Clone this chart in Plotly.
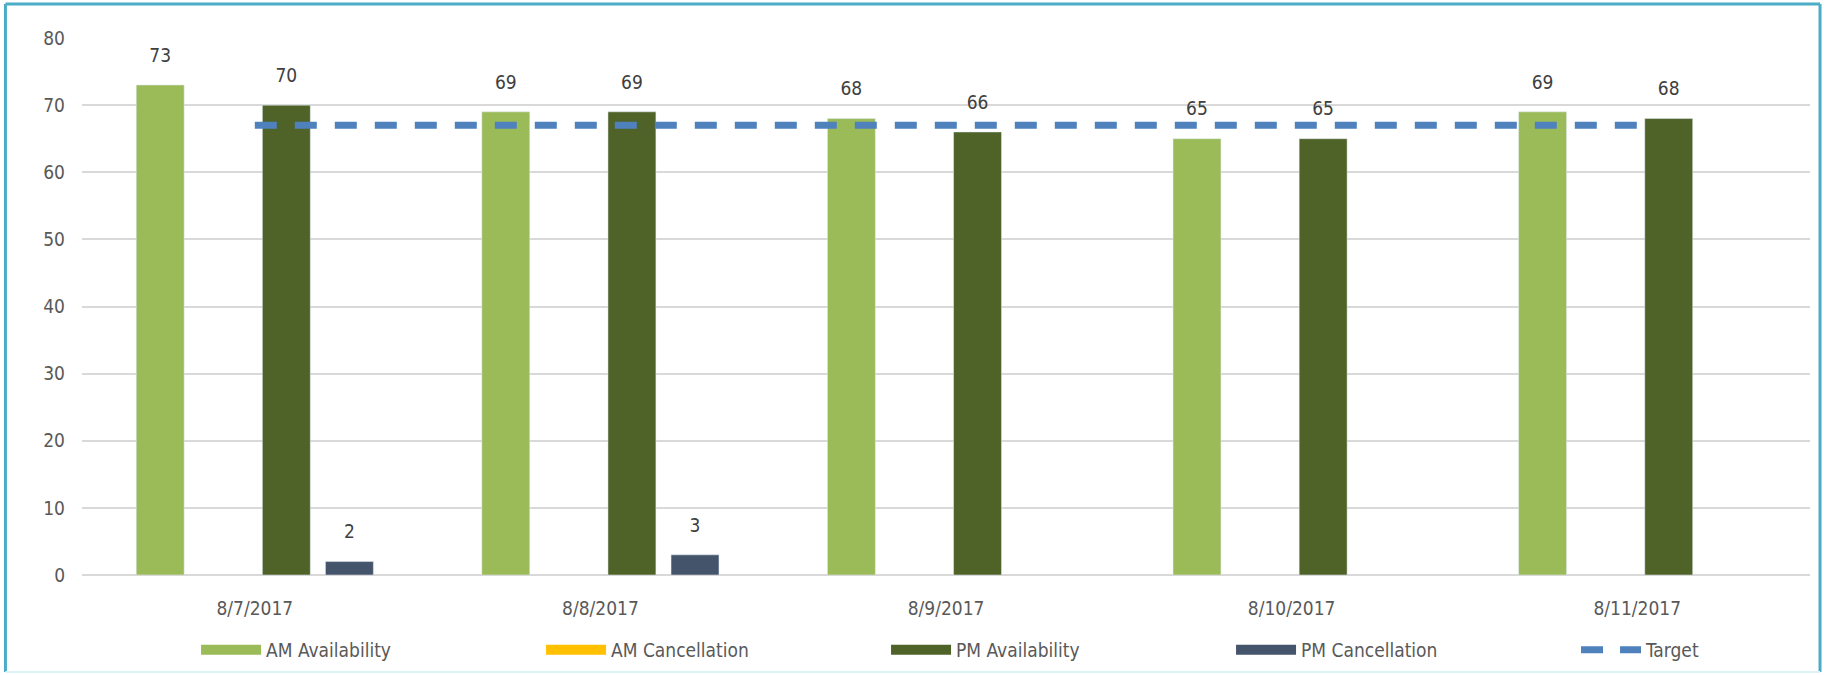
import plotly.graph_objects as go

dates = ["8/7/2017", "8/8/2017", "8/9/2017", "8/10/2017", "8/11/2017"]
am_availability = [73, 69, 68, 65, 69]
am_cancellation = [None, None, None, None, None]
pm_availability = [70, 69, 66, 65, 68]
pm_cancellation = [2, 3, None, None, None]
target = [67, 67, 67, 67, 67]
y_ticks = [0, 10, 20, 30, 40, 50, 60, 70, 80]

series_names = ["AM Availability", "AM Cancellation", "PM Availability", "PM Cancellation"]
series_values = [am_availability, am_cancellation, pm_availability, pm_cancellation]
series_colors = ["#9BBB59", "#FFC000", "#4F6228", "#44546A"]

FONT = "DejaVu Sans Condensed, Liberation Sans Narrow, sans-serif"
FS = 19

fig = go.Figure()

for i, (name, vals, col) in enumerate(zip(series_names, series_values, series_colors)):
    fig.add_trace(go.Bar(
        x=dates, y=vals, name=name, marker_color=col,
        offsetgroup=str(i), showlegend=False, hoverinfo="skip",
    ))

for i, (name, vals) in enumerate(zip(series_names, series_values)):
    fig.add_trace(go.Scatter(
        x=dates, y=vals, mode="markers+text",
        text=[("" if v is None else str(v)) for v in vals],
        textposition="top center",
        textfont=dict(family=FONT, size=FS, color="#404040"),
        marker=dict(size=28, opacity=0),
        offsetgroup=str(i), showlegend=False, hoverinfo="skip", cliponaxis=False,
    ))

fig.add_trace(go.Scatter(
    x=dates, y=target, mode="lines", name="Target", xaxis="x2",
    line=dict(color="#4F81BD", width=7, dash="22px,18px"),
    showlegend=False, hoverinfo="skip",
))

# legend entries
for name, col in zip(series_names, series_colors):
    fig.add_trace(go.Scatter(
        x=[None], y=[None], mode="lines", name=name, xaxis="x2",
        line=dict(color=col, width=15),
    ))
fig.add_trace(go.Scatter(
    x=[None], y=[None], mode="lines", name="Target", xaxis="x2",
    line=dict(color="#4F81BD", width=7, dash="22px,17px"),
))

fig.update_layout(
    width=1835, height=675,
    margin=dict(l=82, r=25, t=37.5, b=100, autoexpand=False),
    paper_bgcolor="white", plot_bgcolor="white",
    barmode="group", bargap=0.27, bargroupgap=0.24,
    scattermode="group", scattergap=0.27,
    font=dict(family=FONT, size=FS, color="#595959"),
    xaxis=dict(type="category", categoryorder="array", categoryarray=dates,
               range=[-0.5, 4.5], showgrid=False, showline=False, zeroline=False,
               ticks="", ticklabelstandoff=20,
               tickfont=dict(family=FONT, size=FS, color="#595959")),
    xaxis2=dict(type="category", categoryorder="array", categoryarray=dates,
                range=[-0.5, 4.5], overlaying="x", visible=False),
    yaxis=dict(range=[0, 80], tickvals=y_ticks, showgrid=True, gridcolor="#D9D9D9",
               gridwidth=2, zeroline=True, zerolinecolor="#D9D9D9", zerolinewidth=2,
               showline=False, ticks="", ticklabelstandoff=16,
               tickfont=dict(family=FONT, size=FS, color="#595959")),
    legend=dict(orientation="h", x=0.066, xanchor="left", y=-0.1395, yanchor="middle",
                entrywidth=270, entrywidthmode="pixels", itemwidth=60,
                font=dict(family=FONT, size=FS, color="#595959"),
                bgcolor="rgba(0,0,0,0)", traceorder="normal", itemclick=False),
    showlegend=True,
    shapes=[
        dict(type="line", xref="paper", yref="paper", x0=-0.0443, x1=1.0058, y0=1.0633, y1=1.0633,
             line=dict(color="#4BACC6", width=3)),
        dict(type="line", xref="paper", yref="paper", x0=-0.0443, x1=-0.0443, y0=-0.1805, y1=1.0633,
             line=dict(color="#4BACC6", width=3)),
        dict(type="line", xref="paper", yref="paper", x0=1.0058, x1=1.0058, y0=-0.1805, y1=1.0633,
             line=dict(color="#4BACC6", width=3)),
        dict(type="line", xref="paper", yref="paper", x0=-0.0443, x1=1.0058, y0=-0.1805, y1=-0.1805,
             line=dict(color="#DDF3F8", width=2)),
    ],
)

fig.write_html("out.html", config={"displayModeBar": False},
               post_script="document.body.style.margin='0';document.body.style.overflow='hidden';")
